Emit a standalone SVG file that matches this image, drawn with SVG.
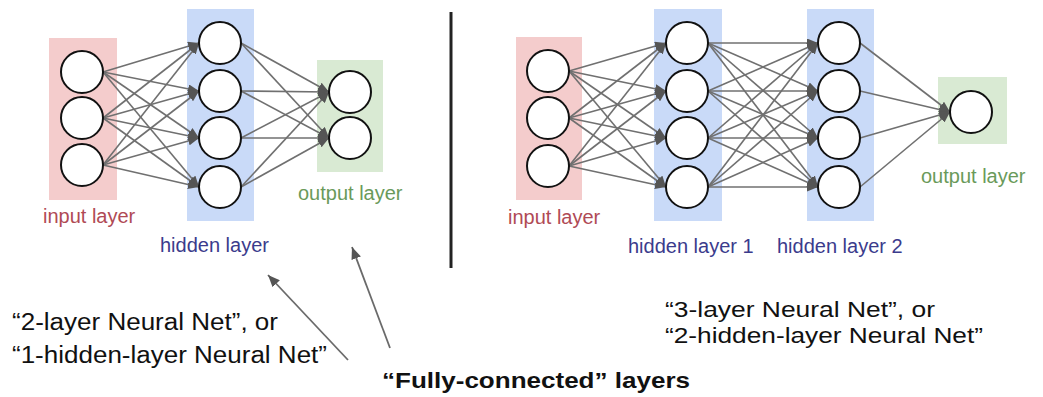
<svg xmlns="http://www.w3.org/2000/svg" width="1043" height="397" viewBox="0 0 1043 397">
<style>
.bg{stroke:none}
.in{fill:#f4cccc}
.hid{fill:#c9daf8}
.out{fill:#d9ead3}
.n{fill:#fff;stroke:#111;stroke-width:2}
.c line{stroke:#707070;stroke-width:1.6;marker-end:url(#ah)}
.lbl{font-family:"Liberation Sans",Arial,sans-serif;font-size:20px}
.lin{fill:#b04a55}
.lhid{fill:#3b3b8c}
.lout{fill:#6a9a5a}
.cap{font-family:"Liberation Sans",Arial,sans-serif;fill:#111}
.ptr{stroke:#6a6a6a;stroke-width:1.8;marker-end:url(#ph)}
</style>
<defs>
<marker id="ah" markerUnits="userSpaceOnUse" markerWidth="11" markerHeight="9" refX="11" refY="4.5" orient="auto">
<path d="M0,0 L11,4.5 L0,9 z" fill="#555"/>
</marker>
<marker id="ph" markerUnits="userSpaceOnUse" markerWidth="12" markerHeight="10" refX="12" refY="5" orient="auto">
<path d="M0,0 L12,5 L0,10 z" fill="#555"/>
</marker>
</defs>
<rect width="1043" height="397" fill="#fff"/>

<g id="layers">
<rect class="bg in" x="49" y="38" width="68" height="162"/>
<rect class="bg hid" x="187" y="9" width="67" height="212"/>
<rect class="bg out" x="317" y="60" width="66" height="112"/>
<rect class="bg in" x="516" y="37" width="66" height="163"/>
<rect class="bg hid" x="654" y="9" width="68" height="212"/>
<rect class="bg hid" x="807" y="9" width="67" height="212"/>
<rect class="bg out" x="938" y="77" width="69" height="67"/>
</g>

<g id="labels">
<text class="lbl lin" x="43" y="223">input layer</text>
<text class="lbl lhid" x="160" y="252">hidden layer</text>
<text class="lbl lout" x="298" y="200">output layer</text>
<text class="lbl lin" x="508" y="224">input layer</text>
<text class="lbl lhid" x="628" y="253">hidden layer 1</text>
<text class="lbl lhid" x="777" y="253">hidden layer 2</text>
<text class="lbl lout" x="921" y="183">output layer</text>
</g>

<g id="connectors" class="c">
<line x1="103" y1="72" x2="199" y2="43"/>
<line x1="103" y1="72" x2="199" y2="91"/>
<line x1="103" y1="72" x2="199" y2="138"/>
<line x1="103" y1="72" x2="199" y2="187"/>
<line x1="103" y1="118" x2="199" y2="43"/>
<line x1="103" y1="118" x2="199" y2="91"/>
<line x1="103" y1="118" x2="199" y2="138"/>
<line x1="103" y1="118" x2="199" y2="187"/>
<line x1="103" y1="165" x2="199" y2="43"/>
<line x1="103" y1="165" x2="199" y2="91"/>
<line x1="103" y1="165" x2="199" y2="138"/>
<line x1="103" y1="165" x2="199" y2="187"/>
<line x1="241" y1="43" x2="329" y2="92"/>
<line x1="241" y1="43" x2="329" y2="138"/>
<line x1="241" y1="91" x2="329" y2="92"/>
<line x1="241" y1="91" x2="329" y2="138"/>
<line x1="241" y1="138" x2="329" y2="92"/>
<line x1="241" y1="138" x2="329" y2="138"/>
<line x1="241" y1="187" x2="329" y2="92"/>
<line x1="241" y1="187" x2="329" y2="138"/>

<line x1="569" y1="71" x2="666" y2="43"/>
<line x1="569" y1="71" x2="666" y2="91"/>
<line x1="569" y1="71" x2="666" y2="138"/>
<line x1="569" y1="71" x2="666" y2="187"/>
<line x1="569" y1="118" x2="666" y2="43"/>
<line x1="569" y1="118" x2="666" y2="91"/>
<line x1="569" y1="118" x2="666" y2="138"/>
<line x1="569" y1="118" x2="666" y2="187"/>
<line x1="569" y1="166" x2="666" y2="43"/>
<line x1="569" y1="166" x2="666" y2="91"/>
<line x1="569" y1="166" x2="666" y2="138"/>
<line x1="569" y1="166" x2="666" y2="187"/>

<line x1="708" y1="43" x2="818" y2="43"/>
<line x1="708" y1="43" x2="818" y2="91"/>
<line x1="708" y1="43" x2="818" y2="138"/>
<line x1="708" y1="43" x2="818" y2="187"/>
<line x1="708" y1="91" x2="818" y2="43"/>
<line x1="708" y1="91" x2="818" y2="91"/>
<line x1="708" y1="91" x2="818" y2="138"/>
<line x1="708" y1="91" x2="818" y2="187"/>
<line x1="708" y1="138" x2="818" y2="43"/>
<line x1="708" y1="138" x2="818" y2="91"/>
<line x1="708" y1="138" x2="818" y2="138"/>
<line x1="708" y1="138" x2="818" y2="187"/>
<line x1="708" y1="187" x2="818" y2="43"/>
<line x1="708" y1="187" x2="818" y2="91"/>
<line x1="708" y1="187" x2="818" y2="138"/>
<line x1="708" y1="187" x2="818" y2="187"/>

<line x1="860" y1="43" x2="950" y2="112"/>
<line x1="860" y1="91" x2="950" y2="112"/>
<line x1="860" y1="138" x2="950" y2="112"/>
<line x1="860" y1="187" x2="950" y2="112"/>
</g>

<g id="net1-input-1"><circle class="n" cx="82" cy="72" r="21"/></g>
<g id="net1-input-2"><circle class="n" cx="82" cy="118" r="21"/></g>
<g id="net1-input-3"><circle class="n" cx="82" cy="165" r="21"/></g>
<g id="net1-hidden-1"><circle class="n" cx="220" cy="43" r="21"/></g>
<g id="net1-hidden-2"><circle class="n" cx="220" cy="91" r="21"/></g>
<g id="net1-hidden-3"><circle class="n" cx="220" cy="138" r="21"/></g>
<g id="net1-hidden-4"><circle class="n" cx="220" cy="187" r="21"/></g>
<g id="net1-output-1"><circle class="n" cx="350" cy="92" r="21"/></g>
<g id="net1-output-2"><circle class="n" cx="350" cy="138" r="21"/></g>

<g id="net2-input-1"><circle class="n" cx="548" cy="71" r="21"/></g>
<g id="net2-input-2"><circle class="n" cx="548" cy="118" r="21"/></g>
<g id="net2-input-3"><circle class="n" cx="548" cy="166" r="21"/></g>
<g id="net2-h1-1"><circle class="n" cx="687" cy="43" r="21"/></g>
<g id="net2-h1-2"><circle class="n" cx="687" cy="91" r="21"/></g>
<g id="net2-h1-3"><circle class="n" cx="687" cy="138" r="21"/></g>
<g id="net2-h1-4"><circle class="n" cx="687" cy="187" r="21"/></g>
<g id="net2-h2-1"><circle class="n" cx="839" cy="43" r="21"/></g>
<g id="net2-h2-2"><circle class="n" cx="839" cy="91" r="21"/></g>
<g id="net2-h2-3"><circle class="n" cx="839" cy="138" r="21"/></g>
<g id="net2-h2-4"><circle class="n" cx="839" cy="187" r="21"/></g>
<g id="net2-output-1"><circle class="n" cx="971" cy="112" r="21"/></g>

<g id="divider"><line x1="451" y1="12" x2="451" y2="268" stroke="#222" stroke-width="3"/></g>

<g id="pointers">
<line class="ptr" x1="348" y1="360" x2="268" y2="275"/>
<line class="ptr" x1="390" y1="348" x2="352" y2="247"/>
</g>

<g id="captions">
<text class="cap" x="12" y="330" font-size="23" textLength="266" lengthAdjust="spacingAndGlyphs">“2-layer Neural Net”, or</text>
<text class="cap" x="12" y="363" font-size="23" textLength="315" lengthAdjust="spacingAndGlyphs">“1-hidden-layer Neural Net”</text>
<text class="cap" x="382" y="388" font-size="22" font-weight="bold" textLength="308" lengthAdjust="spacingAndGlyphs">“Fully-connected” layers</text>
<text class="cap" x="665" y="317" font-size="22" textLength="270" lengthAdjust="spacingAndGlyphs">“3-layer Neural Net”, or</text>
<text class="cap" x="665" y="343" font-size="22" textLength="318" lengthAdjust="spacingAndGlyphs">“2-hidden-layer Neural Net”</text>
</g>
</svg>
